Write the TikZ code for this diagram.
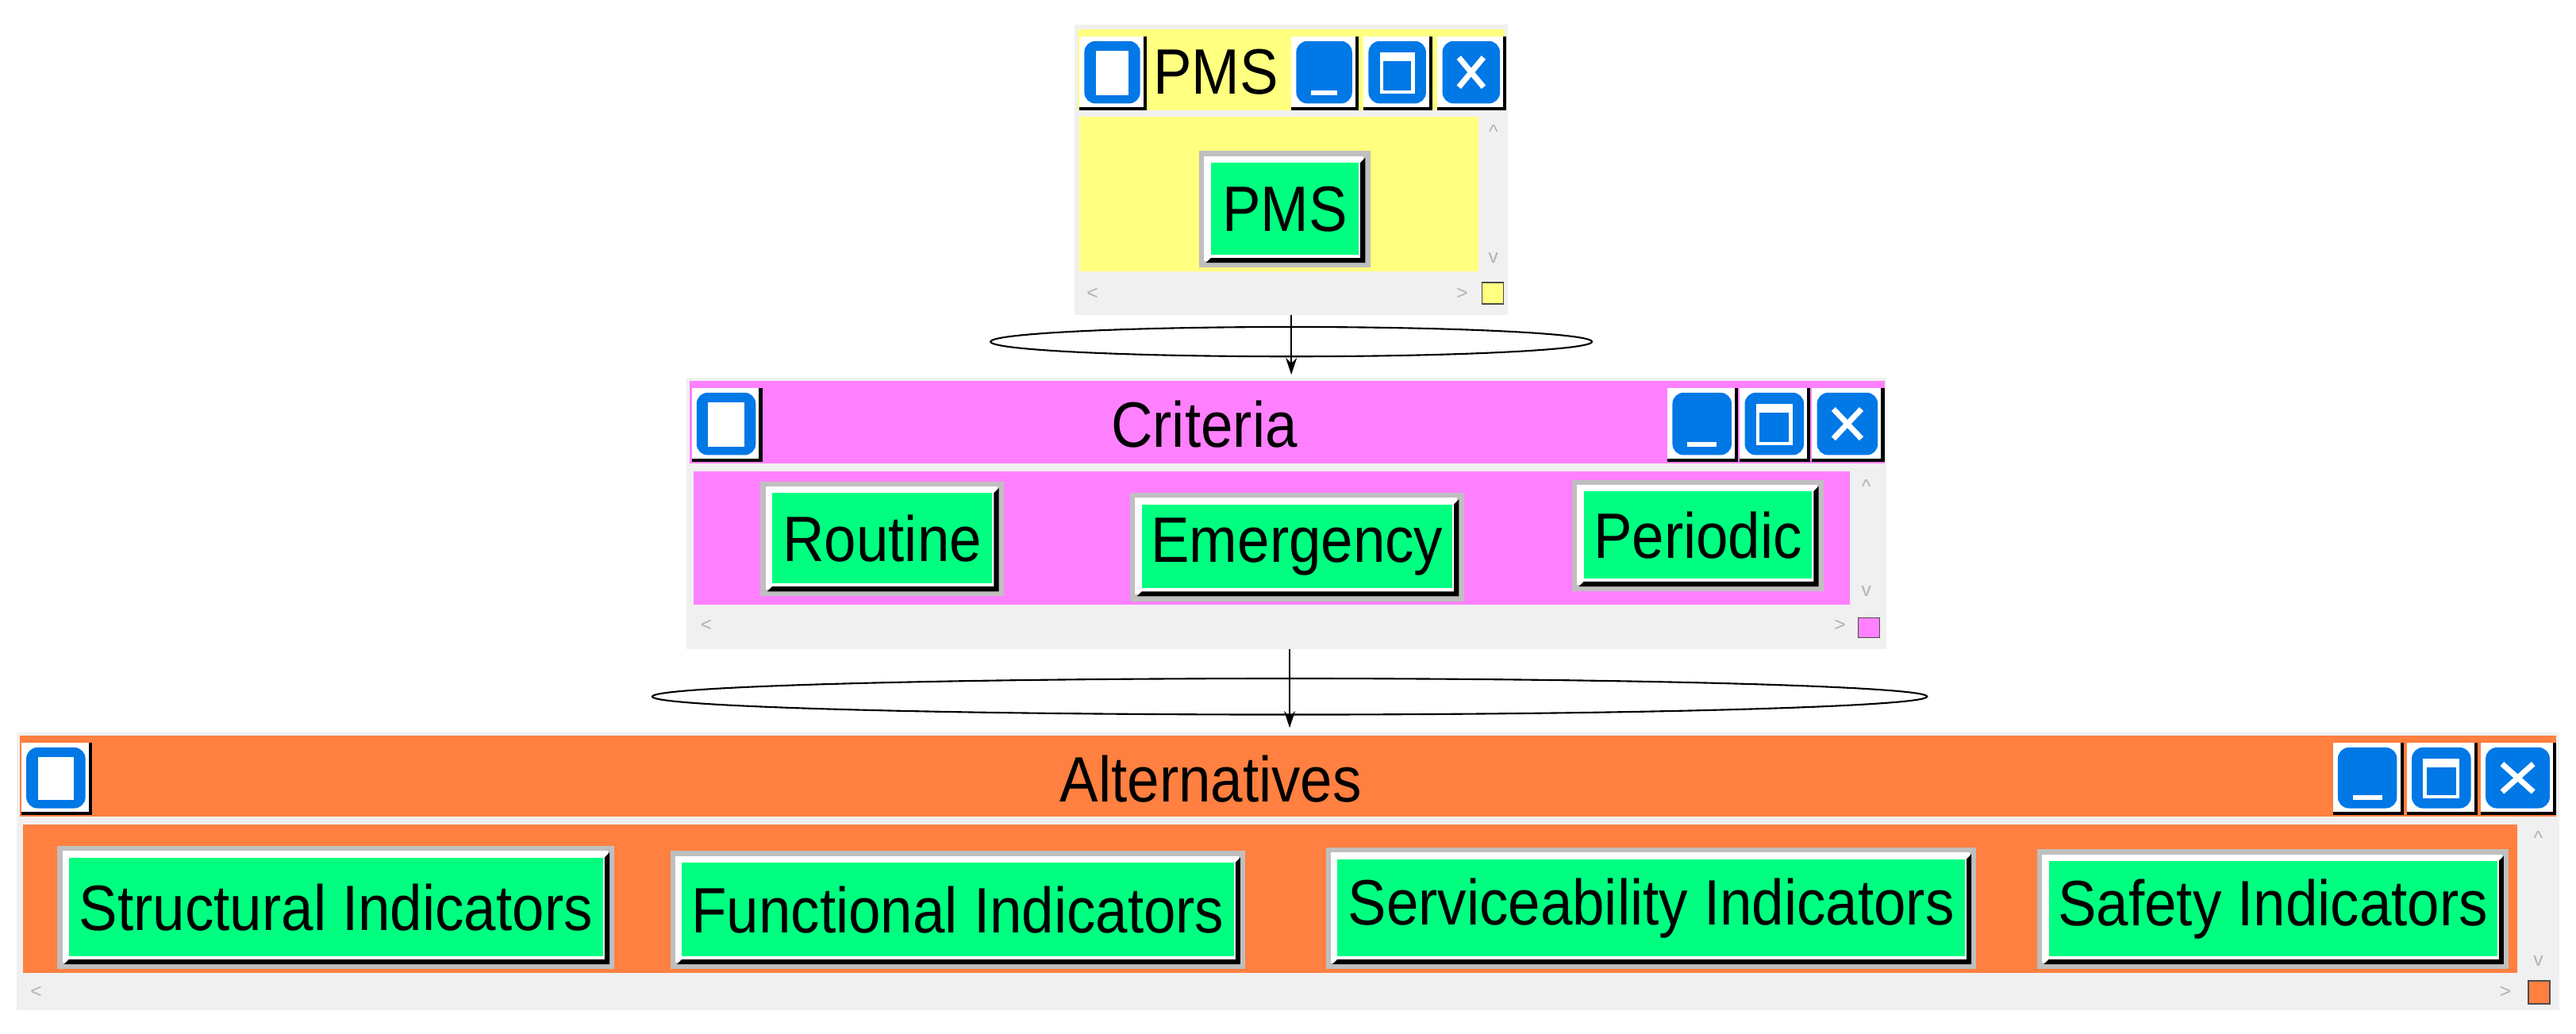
\documentclass[tikz,border=0pt]{standalone}
\usepackage{fontspec}
\setmainfont{Liberation Sans}
\newfontfamily\btnfont[FakeStretch=0.9]{Liberation Sans}
\definecolor{pmsyellow}{RGB}{255,255,128}
\definecolor{critpink}{RGB}{255,128,255}
\definecolor{altorange}{RGB}{255,128,64}
\definecolor{btngreen}{RGB}{0,255,128}
\definecolor{iconblue}{RGB}{0,120,230}
\definecolor{framegray}{RGB}{240,240,240}
\begin{document}
% title-bar button: x1 y1 x2 y2 kind (0 plain, 1 minimise, 2 maximise, 3 close)
\newcommand\tbtn[5]{%
  \fill[white] (#1,#2) rectangle (#3,#4);
  \draw[black,line width=1.2pt] (#1,#4)--(#3,#4)--(#3,#2);
  \fill[iconblue,rounded corners=4pt] (#1+3,#2+3) rectangle (#3-3,#4-3);
  \ifcase#5
    \fill[white] (#1+10,#2+9) rectangle (#3-10,#4-8);
  \or
    \fill[white] (#1+12,#4-11) rectangle (#3-12,#4-8);
  \or
    \draw[white,line width=1.3pt] (#1+11,#2+11) rectangle (#3-11,#4-10);
    \fill[white] (#1+11,#2+11) rectangle (#3-11,#2+15);
  \or
    \draw[white,line width=2pt] (#1+13,#2+13)--(#3-13,#4-13) (#1+13,#4-13)--(#3-13,#2+13);
  \fi}
% green push button: x1 y1 x2 y2 name text
\newcommand\gbtn[6]{%
  \fill[gray!50] (#1,#2) rectangle (#3,#4);
  \fill[white] (#1+3,#2+3) rectangle (#3-4,#4-4);
  \fill[black] (#1+4,#4-3)--(#3-3,#4-3)--(#3-3,#2+4)--(#3-6,#2+7)--(#3-6,#4-6)--(#1+7,#4-6)--cycle;
  \fill[btngreen] (#1+7,#2+7) rectangle (#3-7,#4-8);
  \node[btntext] (#5) at ($(#1,#2)!0.5!(#3,#4)$) {#6};}
\begin{tikzpicture}[x=0.0207cm,y=-0.0207cm,
    btntext/.style={font=\btnfont\fontsize{23}{25}\selectfont,inner sep=0pt},
    wintitle/.style={font=\btnfont\fontsize{23}{25}\selectfont,inner sep=0pt},
    scrollmark/.style={gray!60,font=\fontsize{7}{8}\selectfont,inner sep=0pt},
    link/.style={-{Stealth[length=6pt,width=4pt]},thin},
    lens/.style={semithick,draw=black}]
\usetikzlibrary{calc,arrows.meta}
\useasboundingbox (0,0) rectangle (1568,629);

% PMS window
\fill[framegray] (654,15) rectangle (918,192);
\fill[pmsyellow] (656,18) rectangle (916,67);
\tbtn{657}{22}{697}{66}{0}
\node[wintitle] (pmsTitle) at (740,44) {PMS};
\tbtn{786}{22}{826}{66}{1}
\tbtn{830}{22}{871}{66}{2}
\tbtn{875}{22}{916}{66}{3}
\fill[pmsyellow] (657,71) rectangle (900,165);
\gbtn{730}{92}{834}{163}{pms}{PMS}
\node[scrollmark] at (909,80) {\^{}};
\node[scrollmark] at (909,157) {v};
\node[scrollmark] at (665,179) {<};
\node[scrollmark] at (890,179) {>};
\fill[pmsyellow,draw=black!70,thin] (902,172) rectangle (915,185);
\coordinate (pmsBottom) at (786,192);

% lens between PMS and Criteria
\draw[lens] (786,208) ellipse (183 and 9);
\coordinate (critTop) at (786,228);
\draw[link] (pmsBottom) -- (critTop);

% Criteria window
\fill[framegray] (418,230) rectangle (1148,395);
\fill[critpink] (420,232) rectangle (1147,282);
\tbtn{421}{236}{463}{280}{0}
\node[wintitle] (critTitle) at (733,258) {Criteria};
\tbtn{1015}{236}{1057}{280}{1}
\tbtn{1059}{236}{1101}{280}{2}
\tbtn{1103}{236}{1146}{280}{3}
\fill[critpink] (422,287) rectangle (1126,368);
\gbtn{463}{293}{611}{363}{routine}{Routine}
\gbtn{688}{300}{891}{366}{emergency}{Emergency}
\gbtn{957}{292}{1110}{360}{periodic}{Periodic}
\node[scrollmark] at (1136,296) {\^{}};
\node[scrollmark] at (1136,360) {v};
\node[scrollmark] at (430,381) {<};
\node[scrollmark] at (1120,381) {>};
\fill[critpink,draw=black!70,thin] (1131,376) rectangle (1144,388);
\coordinate (critBottom) at (785,395);

% lens between Criteria and Alternatives
\draw[lens] (785,424) ellipse (388 and 11);
\coordinate (altTop) at (785,443);
\draw[link] (critBottom) -- (altTop);

% Alternatives window
\fill[framegray] (10,446) rectangle (1558,615);
\fill[altorange] (12,448) rectangle (1556,497);
\tbtn{13}{452}{55}{495}{0}
\node[wintitle] (altTitle) at (737,474) {Alternatives};
\tbtn{1420}{452}{1462}{495}{1}
\tbtn{1465}{452}{1507}{495}{2}
\tbtn{1510}{452}{1555}{495}{3}
\fill[altorange] (14,502) rectangle (1532,592);
\gbtn{35}{515}{374}{590}{structural}{Structural Indicators}
\gbtn{408}{518}{758}{590}{functional}{Functional Indicators}
\gbtn{807}{516}{1203}{590}{serviceability}{Serviceability Indicators}
\gbtn{1240}{517}{1527}{590}{safety}{Safety Indicators}
\node[scrollmark] at (1545,510) {\^{}};
\node[scrollmark] at (1545,585) {v};
\node[scrollmark] at (22,604) {<};
\node[scrollmark] at (1525,604) {>};
\fill[altorange,draw=black!70,thin] (1539,597) rectangle (1552,611);
\end{tikzpicture}
\end{document}
